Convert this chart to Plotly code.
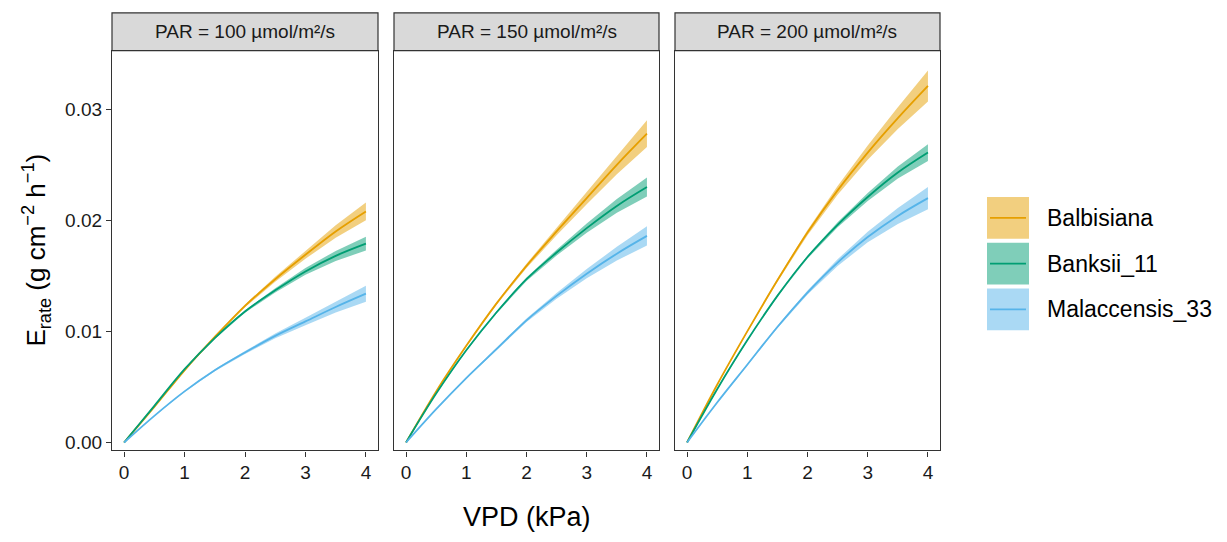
import plotly.graph_objects as go

# Transpiration rate (g cm^-2 h^-1) predicted along VPD (kPa) for three PAR levels
vpd = [0, 0.5, 1, 1.5, 2, 2.5, 3, 3.5, 4]
par_levels = [100, 150, 200]
genotypes = ["Balbisiana", "Banksii_11", "Malaccensis_33"]

# fitted means
balbisiana_par100 = [0, 0.0032, 0.0065, 0.0095, 0.0123, 0.0147, 0.0169, 0.0190, 0.0208]
banksii_par100 = [0, 0.0033, 0.0066, 0.0094, 0.0118, 0.0137, 0.0154, 0.0168, 0.0179]
malaccensis_par100 = [0, 0.0024, 0.0046, 0.0065, 0.0081, 0.0096, 0.0109, 0.0122, 0.0134]

balbisiana_par150 = [0, 0.0046, 0.0087, 0.0125, 0.0159, 0.0190, 0.0220, 0.0250, 0.0278]
banksii_par150 = [0, 0.0044, 0.0083, 0.0117, 0.0147, 0.0171, 0.0193, 0.0213, 0.0230]
malaccensis_par150 = [0, 0.0030, 0.0058, 0.0084, 0.0110, 0.0132, 0.0152, 0.0170, 0.0186]

balbisiana_par200 = [0, 0.0052, 0.0100, 0.0146, 0.0189, 0.0227, 0.0261, 0.0292, 0.0321]
banksii_par200 = [0, 0.0048, 0.0092, 0.0132, 0.0167, 0.0196, 0.0221, 0.0243, 0.0261]
malaccensis_par200 = [0, 0.0036, 0.0070, 0.0104, 0.0135, 0.0162, 0.0185, 0.0204, 0.0220]

# half-widths of the confidence bands
balbisiana_ci100 = [0, 0.00004, 0.00006, 0.00009, 0.00013, 0.00022, 0.00036, 0.00056, 0.00080]
banksii_ci100 = [0, 0.00004, 0.00006, 0.00008, 0.00011, 0.00019, 0.00030, 0.00045, 0.00062]
malaccensis_ci100 = [0, 0.00004, 0.00006, 0.00009, 0.00013, 0.00021, 0.00034, 0.00050, 0.00072]

balbisiana_ci150 = [0, 0.00005, 0.00008, 0.00012, 0.00020, 0.00034, 0.00055, 0.00085, 0.00120]
banksii_ci150 = [0, 0.00004, 0.00007, 0.00010, 0.00016, 0.00026, 0.00041, 0.00062, 0.00086]
malaccensis_ci150 = [0, 0.00004, 0.00007, 0.00010, 0.00016, 0.00026, 0.00041, 0.00062, 0.00086]

balbisiana_ci200 = [0, 0.00005, 0.00009, 0.00014, 0.00024, 0.00040, 0.00064, 0.00098, 0.00140]
banksii_ci200 = [0, 0.00004, 0.00006, 0.00009, 0.00014, 0.00023, 0.00036, 0.00054, 0.00076]
malaccensis_ci200 = [0, 0.00004, 0.00007, 0.00011, 0.00018, 0.00030, 0.00048, 0.00072, 0.00100]

fits = {
    100: [balbisiana_par100, banksii_par100, malaccensis_par100],
    150: [balbisiana_par150, banksii_par150, malaccensis_par150],
    200: [balbisiana_par200, banksii_par200, malaccensis_par200],
}
cis = {
    100: [balbisiana_ci100, banksii_ci100, malaccensis_ci100],
    150: [balbisiana_ci150, banksii_ci150, malaccensis_ci150],
    200: [balbisiana_ci200, banksii_ci200, malaccensis_ci200],
}

line_colors = ["#E69F00", "#009E73", "#56B4E9"]
band_colors = ["rgba(230,159,0,0.5)", "rgba(0,158,115,0.5)", "rgba(86,180,233,0.5)"]

FONT = "Liberation Sans, Arial, Helvetica, sans-serif"
W, H = 1227, 542


def px_x(p):
    return p / W


def px_y(p):
    return (H - p) / H


panel_px = [(112, 378), (394, 659), (675, 940)]
plot_top, plot_bottom = 51, 453
strip_top = 13

fig = go.Figure()

for i, par in enumerate(par_levels):
    xa = "x" if i == 0 else f"x{i + 1}"
    ya = "y" if i == 0 else f"y{i + 1}"
    # bands below the lines
    for g, name in enumerate(genotypes):
        mean = fits[par][g]
        hw = cis[par][g]
        upper = [m + h for m, h in zip(mean, hw)]
        lower = [m - h for m, h in zip(mean, hw)]
        fig.add_trace(go.Scatter(
            x=vpd + vpd[::-1], y=upper + lower[::-1],
            fill="toself", fillcolor=band_colors[g],
            line=dict(width=0), mode="lines", hoverinfo="skip",
            showlegend=False, xaxis=xa, yaxis=ya,
        ))
    for g, name in enumerate(genotypes):
        fig.add_trace(go.Scatter(
            x=vpd, y=fits[par][g], mode="lines", name=name,
            line=dict(color=line_colors[g], width=1.8, shape="spline"),
            showlegend=False, xaxis=xa, yaxis=ya,
        ))

axis_common = dict(
    showgrid=False, zeroline=False, showline=True, mirror=True,
    linecolor="#333333", linewidth=1.2, ticks="outside", ticklen=5,
    tickwidth=1.1, tickcolor="#333333",
    tickfont=dict(family=FONT, size=19, color="#1A1A1A"),
)

layout = dict(
    width=W, height=H, margin=dict(l=0, r=0, t=0, b=0),
    plot_bgcolor="white", paper_bgcolor="white",
    font=dict(family=FONT), showlegend=False,
)
for i in range(3):
    sx = "" if i == 0 else str(i + 1)
    x0, x1 = panel_px[i]
    layout[f"xaxis{sx}"] = dict(
        axis_common, domain=[px_x(x0), px_x(x1)], range=[-0.2, 4.2],
        tickvals=[0, 1, 2, 3, 4], ticktext=["0", "1", "2", "3", "4"],
        anchor=f"y{sx}",
    )
    yax = dict(
        axis_common, domain=[px_y(plot_bottom), px_y(plot_top)],
        range=[-0.00072, 0.03527], anchor=f"x{sx}",
        tickvals=[0, 0.01, 0.02, 0.03],
        ticktext=["0.00", "0.01", "0.02", "0.03"],
    )
    if i > 0:
        yax.update(ticks="", showticklabels=False, matches="y")
    layout[f"yaxis{sx}"] = yax

fig.update_layout(**layout)

shapes = []
annotations = []
for i, par in enumerate(par_levels):
    x0, x1 = panel_px[i]
    shapes.append(dict(
        type="rect", xref="paper", yref="paper",
        x0=px_x(x0), x1=px_x(x1), y0=px_y(plot_top), y1=px_y(strip_top),
        fillcolor="#D9D9D9", line=dict(color="#333333", width=1.2), layer="above",
    ))
    annotations.append(dict(
        text=f"PAR = {par} µmol/m²/s", xref="paper", yref="paper",
        x=px_x((x0 + x1) / 2), y=px_y((plot_top + strip_top) / 2),
        xanchor="center", yanchor="middle",
        showarrow=False, font=dict(family=FONT, size=19, color="#1A1A1A"),
    ))

# axis titles
annotations.append(dict(
    text="VPD (kPa)", xref="paper", yref="paper", x=px_x(527), y=px_y(520),
    xanchor="center", yanchor="middle",
    showarrow=False, font=dict(family=FONT, size=27, color="#000000"),
))
annotations.append(dict(
    text="E<sub>rate</sub> (g cm<sup>−2</sup> h<sup>−1</sup>)",
    xref="paper", yref="paper", x=px_x(36), y=px_y((plot_top + plot_bottom) / 2),
    xanchor="center", yanchor="middle",
    textangle=-90, showarrow=False,
    font=dict(family=FONT, size=26, color="#000000"),
))

# legend keys: band swatch with the line drawn through it
key_tops = [198, 244, 290]
for g, name in enumerate(genotypes):
    top = key_tops[g]
    shapes.append(dict(
        type="rect", xref="paper", yref="paper",
        x0=px_x(987), x1=px_x(1029), y0=px_y(top + 42), y1=px_y(top),
        fillcolor=band_colors[g], line=dict(width=0),
    ))
    shapes.append(dict(
        type="line", xref="paper", yref="paper",
        x0=px_x(990), x1=px_x(1026), y0=px_y(top + 21), y1=px_y(top + 21),
        line=dict(color=line_colors[g], width=1.8),
    ))
    annotations.append(dict(
        text=name, xref="paper", yref="paper", x=px_x(1045), y=px_y(top + 21),
        xanchor="left", yanchor="middle", showarrow=False,
        font=dict(family=FONT, size=23, color="#000000"),
    ))

fig.update_layout(shapes=shapes, annotations=annotations)
fig.write_html("out.html")
